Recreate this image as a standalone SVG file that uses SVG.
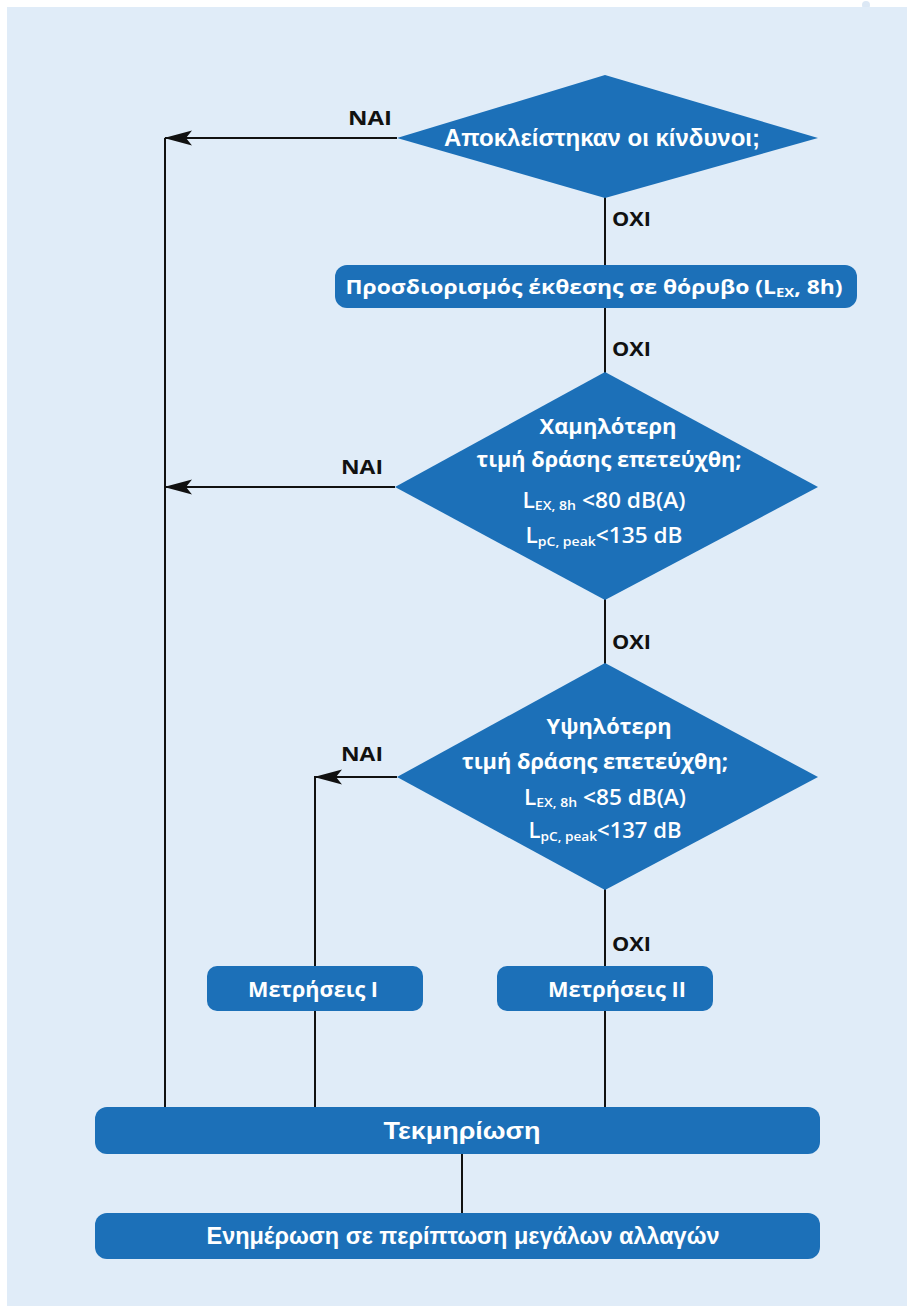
<svg xmlns="http://www.w3.org/2000/svg" width="907" height="1306" viewBox="0 0 907 1306">
<defs>
<style>
.node{fill:#1C70B8}
.wt{fill:#fff;font-family:"Open Sans","Noto Sans",sans-serif;font-weight:bold;text-anchor:middle}
.mt{fill:#fff;font-family:"Open Sans","Noto Sans",sans-serif;font-weight:600;text-anchor:middle}
.cond{fill:#fff;font-family:"Liberation Sans",sans-serif;font-weight:bold;text-anchor:middle}
.lbl{fill:#111;font-family:"Open Sans","Noto Sans",sans-serif;font-weight:bold;font-size:20px}
.ln{stroke:#111;stroke-width:2;fill:none}
</style>
<marker id="ah" viewBox="0 0 28 16" refX="27" refY="8" markerWidth="28" markerHeight="16" markerUnits="userSpaceOnUse" orient="auto">
<path d="M28,8 L0,0.5 L6,8 L0,15.5 Z" fill="#111"/>
</marker>
</defs>
<rect x="0" y="0" width="907" height="1306" fill="#fff"/>
<circle cx="866" cy="5" r="4" fill="#DCE8F5"/>
<rect x="7" y="7" width="900" height="1299" fill="#E0ECF8"/>

<g id="connectors">
<line class="ln" x1="165" y1="138" x2="165" y2="1108"/>
<line class="ln" x1="397" y1="138" x2="165" y2="138" marker-end="url(#ah)"/>
<line class="ln" x1="395" y1="487" x2="165" y2="487" marker-end="url(#ah)"/>
<line class="ln" x1="397" y1="777" x2="315" y2="777" marker-end="url(#ah)"/>
<line class="ln" x1="315" y1="776" x2="315" y2="1108"/>
<line class="ln" x1="605" y1="196" x2="605" y2="266"/>
<line class="ln" x1="605" y1="307" x2="605" y2="374"/>
<line class="ln" x1="605" y1="598" x2="605" y2="665"/>
<line class="ln" x1="605" y1="888" x2="605" y2="1108"/>
<line class="ln" x1="462" y1="1154" x2="462" y2="1214"/>
<text class="lbl" x="348" y="125" textLength="44" lengthAdjust="spacingAndGlyphs">NAI</text>
<text class="lbl" x="612" y="226" textLength="39" lengthAdjust="spacingAndGlyphs">OXI</text>
<text class="lbl" x="612" y="356" textLength="39" lengthAdjust="spacingAndGlyphs">OXI</text>
<text class="lbl" x="341" y="474" textLength="42" lengthAdjust="spacingAndGlyphs">NAI</text>
<text class="lbl" x="612" y="649" textLength="39" lengthAdjust="spacingAndGlyphs">OXI</text>
<text class="lbl" x="341" y="761" textLength="42" lengthAdjust="spacingAndGlyphs">NAI</text>
<text class="lbl" x="612" y="951" textLength="39" lengthAdjust="spacingAndGlyphs">OXI</text>
</g>

<g id="d1">
<polygon class="node" points="605,75 818,138 605,198 397,138"/>
<text class="cond" x="602" y="146" font-size="23" textLength="316" lengthAdjust="spacingAndGlyphs">Αποκλείστηκαν οι κίνδυνοι;</text>
</g>

<g id="r1">
<rect class="node" x="335" y="265" width="522" height="43" rx="12"/>
<text class="wt" x="594" y="294" font-size="20" textLength="497" lengthAdjust="spacingAndGlyphs">Προσδιορισμός έκθεσης σε θόρυβο (L<tspan font-size="13" dy="3">EX</tspan><tspan dy="-3">, 8h)</tspan></text>
</g>

<g id="d2">
<polygon class="node" points="605,372 818,487 605,600 395,487"/>
<text class="wt" x="608" y="434" font-size="21" textLength="137" lengthAdjust="spacingAndGlyphs">Χαμηλότερη</text>
<text class="wt" x="609" y="467" font-size="21" textLength="265" lengthAdjust="spacingAndGlyphs">τιμή δράσης επετεύχθη;</text>
<text class="mt" x="604" y="508" font-size="21" textLength="163" lengthAdjust="spacingAndGlyphs">L<tspan font-size="13" dy="2">EX, 8h</tspan><tspan dy="-2"> &lt;80 dB(A)</tspan></text>
<text class="mt" x="604" y="543" font-size="21" textLength="157" lengthAdjust="spacingAndGlyphs">L<tspan font-size="13" dy="3">pC, peak</tspan><tspan dy="-3">&lt;135 dB</tspan></text>
</g>

<g id="d3">
<polygon class="node" points="605,663 818,777 605,890 397,777"/>
<text class="wt" x="609" y="734" font-size="21" textLength="125" lengthAdjust="spacingAndGlyphs">Υψηλότερη</text>
<text class="wt" x="595" y="769" font-size="21" textLength="266" lengthAdjust="spacingAndGlyphs">τιμή δράσης επετεύχθη;</text>
<text class="mt" x="605" y="805" font-size="21" textLength="162" lengthAdjust="spacingAndGlyphs">L<tspan font-size="13" dy="2">EX, 8h</tspan><tspan dy="-2"> &lt;85 dB(A)</tspan></text>
<text class="mt" x="605" y="838" font-size="21" textLength="153" lengthAdjust="spacingAndGlyphs">L<tspan font-size="13" dy="3">pC, peak</tspan><tspan dy="-3">&lt;137 dB</tspan></text>
</g>

<g id="m1">
<rect class="node" x="207" y="966" width="216" height="45" rx="10"/>
<text class="wt" x="313" y="997" font-size="21" textLength="130" lengthAdjust="spacingAndGlyphs">Μετρήσεις I</text>
</g>

<g id="m2">
<rect class="node" x="497" y="966" width="216" height="45" rx="10"/>
<text class="wt" x="617" y="997" font-size="21" textLength="138" lengthAdjust="spacingAndGlyphs">Μετρήσεις II</text>
</g>

<g id="t1">
<rect class="node" x="95" y="1107" width="725" height="47" rx="12"/>
<text class="cond" x="462" y="1139" font-size="23" textLength="157" lengthAdjust="spacingAndGlyphs">Τεκμηρίωση</text>
</g>

<g id="e1">
<rect class="node" x="95" y="1213" width="725" height="46" rx="12"/>
<text class="cond" x="463" y="1244" font-size="23" textLength="513" lengthAdjust="spacingAndGlyphs">Ενημέρωση σε περίπτωση μεγάλων αλλαγών</text>
</g>
</svg>
